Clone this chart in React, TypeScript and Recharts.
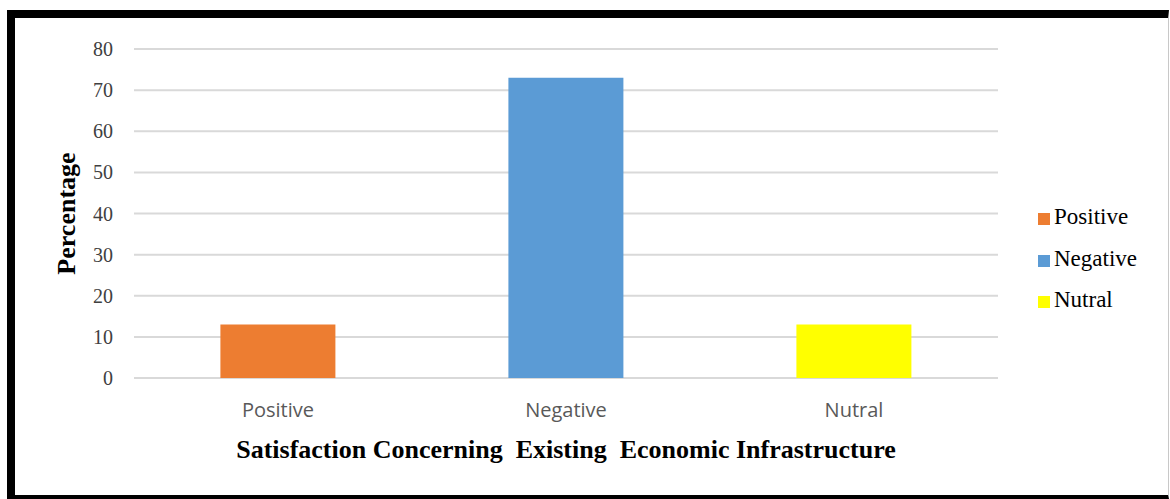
import React from 'react';
import { BarChart, Bar, XAxis, YAxis, CartesianGrid, Cell, Label } from 'recharts';

// Survey responses (percent of respondents)
const categories: string[] = ['Positive', 'Negative', 'Nutral'];
const percentages: number[] = [13, 73, 13];
const barColors: string[] = ['#ED7D31', '#5B9BD5', '#FFFF00'];
const yTicks: number[] = [0, 10, 20, 30, 40, 50, 60, 70, 80];
const xTitle = 'Satisfaction Concerning\u00A0 Existing\u00A0 Economic Infrastructure';
const yTitle = 'Percentage';

const data = categories.map((name, i) => ({ name, value: percentages[i] }));

const SERIF = '"Liberation Serif", "Times New Roman", serif';
const SANS = '"Open Sans", "Noto Sans", sans-serif';

const LegendBox = () => (
  <div style={{ position: 'absolute', left: 1038, top: 204, width: 130, height: 130 }}>
    {categories.map((name, i) => (
      <div
        key={name}
        style={{
          position: 'absolute',
          left: 0,
          top: i * 41.5,
          height: 26,
          display: 'flex',
          alignItems: 'center',
          whiteSpace: 'nowrap',
        }}
      >
        <span
          style={{
            display: 'inline-block',
            width: 12,
            height: 12,
            background: barColors[i],
            marginRight: 4,
            marginTop: 4,
          }}
        />
        <span style={{ fontFamily: SERIF, fontSize: 23, color: '#000' }}>{name}</span>
      </div>
    ))}
  </div>
);

const YTitle = (props: any) => {
  const vb = props.viewBox || {};
  const cy = (vb.y ?? 0) + (vb.height ?? 0) / 2;
  return (
    <text
      x={75}
      y={cy}
      transform={`rotate(-90, 75, ${cy})`}
      textAnchor="middle"
      fontFamily={SERIF}
      fontWeight="bold"
      fontSize={26}
      fill="#000"
    >
      {yTitle}
    </text>
  );
};

export default function App() {
  return (
    <div style={{ position: 'absolute', left: 0, top: 0, width: 1170, height: 499, background: '#fff' }}>
      <div
        style={{
          position: 'absolute',
          left: 7,
          top: 10,
          width: 1170 - 7 - 8 - 2,
          height: 499 - 10 - 8 - 4,
          borderTop: '8px solid #000',
          borderLeft: '8px solid #000',
          borderBottom: '4px solid #000',
          borderRight: '1px solid #c8c8c8',
        }}
      />
      <div style={{ position: 'absolute', left: 0, top: 0 }}>
        <BarChart
          width={1170}
          height={499}
          data={data}
          margin={{ top: 49, right: 172, bottom: 0, left: 0 }}
          barCategoryGap="30%"
        >
          <CartesianGrid horizontal vertical={false} stroke="#d9d9d9" strokeWidth={2} />
          <XAxis
            dataKey="name"
            height={121}
            axisLine={false}
            tickLine={false}
            tickSize={0}
            tickMargin={25}
            tick={{ fill: '#595959', fontFamily: SANS, fontSize: 20 }}
            interval={0}
          >
            <Label
              value={xTitle}
              position="insideBottom"
              offset={41}
              fill="#000"
              fontFamily={SERIF}
              fontWeight="bold"
              fontSize={26}
            />
          </XAxis>
          <YAxis
            width={134}
            domain={[0, 80]}
            ticks={yTicks}
            interval={0}
            axisLine={false}
            tickLine={false}
            tickSize={0}
            tickMargin={21}
            tick={{ fill: '#404040', fontFamily: SERIF, fontSize: 20 }}
          >
            <Label content={YTitle} />
          </YAxis>
          <Bar dataKey="value" isAnimationActive={false}>
            {data.map((d, i) => (
              <Cell key={d.name} fill={barColors[i]} />
            ))}
          </Bar>
        </BarChart>
      </div>
      <LegendBox />
    </div>
  );
}
